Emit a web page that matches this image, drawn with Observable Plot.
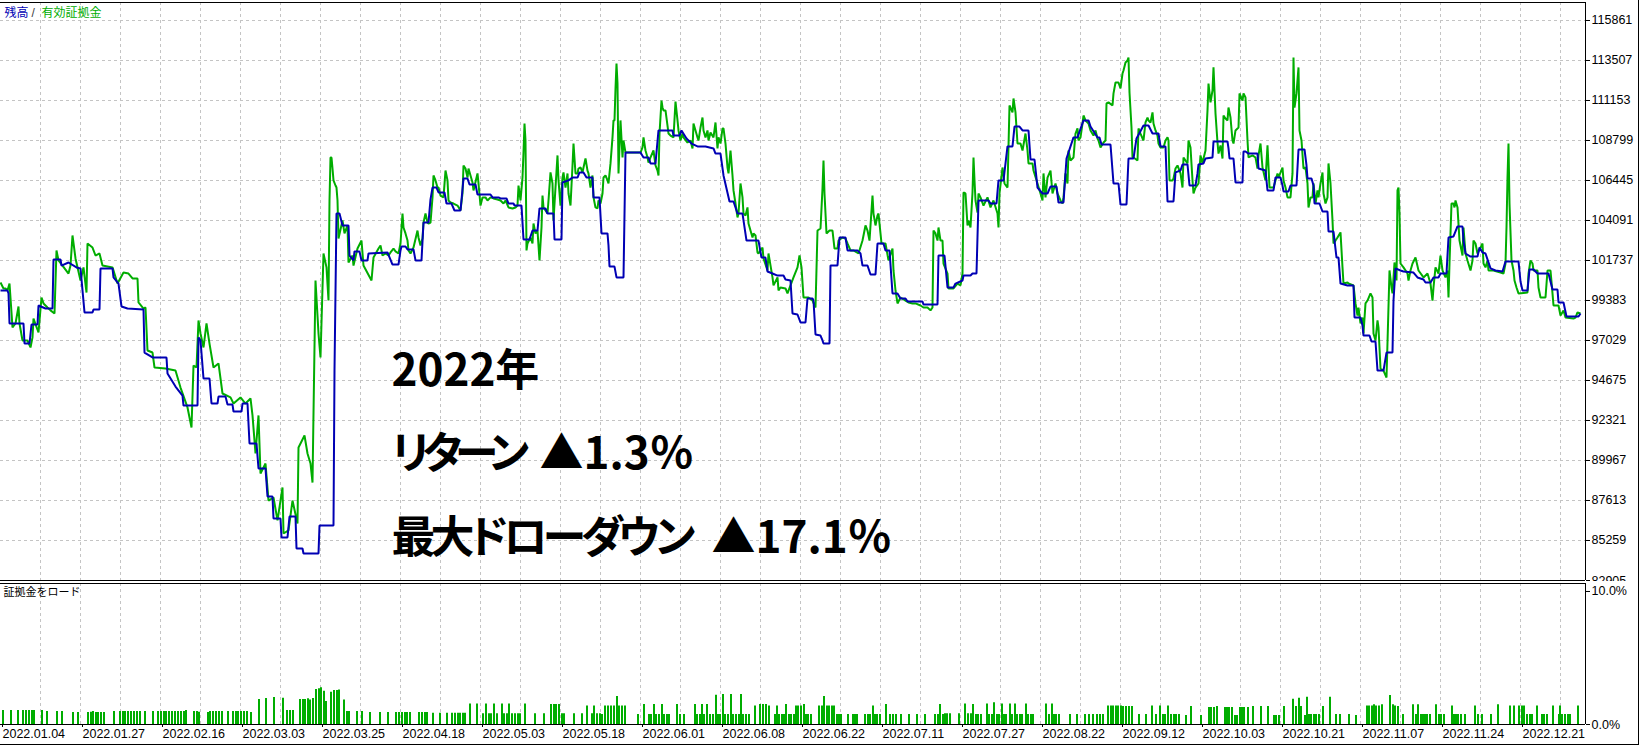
<!DOCTYPE html>
<html>
<head>
<meta charset="utf-8">
<script src="https://cdn.jsdelivr.net/npm/d3@7"></script>
<script src="https://cdn.jsdelivr.net/npm/@observablehq/plot@0.6"></script>
<style>
  html, body { margin: 0; padding: 0; background: #fff; }
  #chart { width: 1638px; height: 744px; border-right: 1px solid #000; border-bottom: 1px solid #000; overflow: hidden; background: #fff; }
  #chart svg { display: block; }
  .palt { font-feature-settings: "palt" 1; }
  .tight7 { font-feature-settings: "palt" 1; letter-spacing: -7px; }
  .tight5 { font-feature-settings: "palt" 1; letter-spacing: -5px; }
</style>
</head>
<body>
<div id="chart"></div>
<script>
// ---- data (x = trade step on the tester graph, value = account currency) ----
const balance = [[0,99970],[7,99970],[8,99800],[9,98030],[23,98030],[24,96850],[29,96850],[31,97970],[37,97970],[38,99090],[45,98910],[52,98910],[53,101800],[60,101800],[61,101440],[68,101620],[76,101330],[80,101270],[84,98680],[92,98680],[93,98850],[99,98850],[100,101270],[112,101270],[113,100740],[118,100380],[121,99030],[127,98910],[143,98850],[144,96320],[152,96030],[166,96030],[167,95090],[175,94320],[182,93790],[183,93200],[197,93200],[198,97210],[200,97030],[203,94790],[209,94790],[211,93320],[217,93320],[218,93730],[225,93730],[227,93260],[232,93260],[233,92850],[241,92850],[242,93320],[247,93320],[249,90970],[256,90970],[258,89500],[265,89500],[267,87850],[272,87850],[273,86550],[280,86550],[281,85440],[287,85440],[289,86670],[295,86670],[296,84790],[302,84790],[303,84490],[318,84490],[319,86140],[333,86140],[334,95260],[336,104500],[339,104500],[342,103800],[348,103800],[349,102030],[353,101740],[354,102270],[359,102270],[361,101740],[367,101740],[368,102150],[387,102210],[392,101500],[398,101500],[400,102330],[401,102560],[405,102560],[407,102390],[413,102390],[415,101740],[421,101740],[423,103970],[428,103970],[430,105330],[432,106030],[436,106030],[438,105740],[444,105740],[446,105090],[451,105090],[454,104680],[460,104680],[463,106560],[467,106560],[469,106210],[475,106210],[477,105620],[490,105620],[492,105450],[498,105450],[500,105390],[506,105390],[508,105090],[513,105090],[514,104970],[521,104970],[523,102970],[529,102970],[532,103500],[537,103500],[539,104800],[545,104800],[547,104500],[553,104500],[554,102970],[561,102970],[562,106330],[568,106450],[572,106620],[577,106620],[579,106920],[583,106920],[586,106620],[592,106620],[593,105450],[599,105450],[601,103330],[607,103330],[608,102620],[609,101380],[614,101380],[616,100740],[623,100740],[624,104440],[625,108090],[640,108090],[643,107800],[648,107800],[650,107450],[655,107450],[658,109390],[672,109390],[673,109090],[679,109090],[681,109390],[686,108920],[691,108620],[697,108450],[705,108450],[713,108330],[715,108030],[720,108030],[723,106740],[729,105210],[733,105210],[737,104500],[742,104500],[746,102910],[758,102910],[761,101910],[765,101910],[767,101090],[772,100970],[777,100850],[783,100850],[785,100620],[790,100560],[792,98620],[797,98560],[800,98090],[805,98090],[807,99500],[812,99500],[813,99380],[815,97380],[820,97320],[822,97030],[823,96850],[829,96850],[830,101440],[837,101440],[839,103090],[845,103090],[847,102330],[857,102330],[860,102150],[862,101440],[867,101440],[870,100910],[875,100910],[877,102740],[883,102740],[885,102330],[889,102330],[892,99800],[897,99800],[900,99500],[905,99500],[907,99320],[922,99320],[923,99150],[937,99150],[938,102030],[944,102030],[947,100150],[953,100150],[955,100380],[962,100560],[963,100850],[970,100850],[972,100970],[976,100970],[978,105270],[988,105270],[990,105090],[996,105090],[998,106450],[1003,106450],[1007,108450],[1012,108450],[1014,109620],[1019,109620],[1022,109390],[1028,109390],[1030,107680],[1034,107680],[1037,106030],[1042,105680],[1047,105680],[1050,106090],[1056,106090],[1058,105150],[1063,105150],[1066,107740],[1073,108980],[1077,108980],[1083,109980],[1088,109980],[1090,109620],[1097,108980],[1099,108980],[1101,108560],[1110,108560],[1113,106270],[1118,106270],[1120,105030],[1126,105030],[1128,107740],[1133,107740],[1136,108920],[1143,109680],[1148,109680],[1152,109210],[1158,109210],[1160,108450],[1165,108450],[1167,105210],[1173,105210],[1175,106920],[1180,107030],[1182,107390],[1187,107390],[1189,106150],[1195,106150],[1197,106860],[1198,107390],[1203,107450],[1205,107740],[1212,107800],[1213,108740],[1227,108740],[1228,108330],[1229,107740],[1233,107740],[1235,106330],[1242,106330],[1243,108150],[1245,108150],[1248,108030],[1257,108030],[1258,107150],[1265,107030],[1267,105860],[1273,105860],[1275,106620],[1280,106620],[1282,106150],[1283,105800],[1288,105800],[1290,106150],[1296,106150],[1298,108270],[1304,108270],[1306,107330],[1307,106560],[1311,106560],[1313,106150],[1314,105090],[1319,105090],[1322,104620],[1327,104620],[1328,103440],[1333,103440],[1336,101910],[1338,101910],[1340,100380],[1347,100270],[1353,100270],[1354,98380],[1360,98380],[1362,97910],[1363,97320],[1369,97320],[1371,96970],[1375,96970],[1377,95260],[1383,95260],[1386,96320],[1392,96320],[1393,99380],[1395,101270],[1400,101150],[1403,101090],[1413,101030],[1417,100740],[1423,100620],[1425,100440],[1430,100440],[1433,100740],[1438,100740],[1440,100970],[1446,100970],[1448,103090],[1453,103150],[1457,103740],[1462,103740],[1463,102910],[1465,102150],[1470,101970],[1477,101970],[1479,102500],[1482,102210],[1485,102150],[1490,101270],[1495,101150],[1502,101090],[1505,101680],[1518,101680],[1520,100500],[1522,99970],[1527,99970],[1529,101210],[1533,101210],[1537,100970],[1548,100970],[1552,100030],[1557,100030],[1558,99270],[1563,99270],[1566,98440],[1578,98440],[1580,98620]];

const equity = [[0,100440],[3,100090],[5,100090],[7,99970],[9,100380],[12,97800],[15,98030],[18,99030],[19,98030],[22,97030],[27,97030],[30,96620],[32,97210],[33,98320],[38,97500],[41,99560],[43,99210],[47,98970],[50,98800],[54,98620],[56,102330],[58,101740],[62,101440],[68,100970],[70,101440],[72,103210],[75,101860],[80,100560],[83,101330],[86,99850],[87,102740],[92,102500],[95,102030],[99,102150],[102,101440],[112,101330],[117,100380],[123,101030],[128,100970],[132,100680],[137,100680],[138,99270],[143,98910],[145,98970],[147,96440],[152,96320],[154,95440],[165,95380],[175,95260],[180,94260],[187,93090],[191,91910],[193,95560],[196,95440],[198,98210],[200,97440],[203,96620],[206,98030],[209,96850],[213,95440],[218,95680],[222,93910],[230,93680],[233,93320],[240,93680],[245,93320],[250,93620],[252,92620],[255,90380],[258,92620],[260,89200],[265,89790],[268,87610],[273,87790],[277,86440],[282,88380],[283,85670],[288,85850],[292,87610],[297,86260],[298,90730],[304,91440],[307,90380],[310,89790],[312,88670],[313,92730],[315,100560],[318,97440],[320,96030],[323,102150],[326,101330],[328,99380],[329,105270],[330,107800],[331,107800],[332,107150],[333,106450],[335,106150],[336,106030],[337,105270],[338,103030],[342,104090],[344,103330],[347,103800],[348,101620],[352,102030],[353,101440],[357,102440],[361,102910],[363,101440],[371,100560],[373,101910],[378,102440],[380,102620],[382,102030],[385,102150],[388,102030],[390,102210],[393,102440],[395,102270],[398,102150],[400,102740],[402,104500],[403,103680],[405,103330],[407,102910],[408,102330],[410,102150],[413,102500],[417,103500],[418,103090],[420,102620],[422,103030],[423,103970],[425,104500],[427,103970],[428,103910],[430,103970],[432,105450],[433,106740],[435,106450],[437,106030],[438,106030],[440,105560],[443,105450],[445,107030],[447,106450],[448,105270],[450,105150],[453,105090],[457,104970],[460,104680],[462,105680],[463,107330],[465,107150],[467,106620],[468,107150],[472,106330],[473,105860],[477,106860],[478,106270],[480,104970],[482,105450],[485,105450],[487,105270],[490,105450],[493,105390],[497,105330],[500,105270],[503,105090],[505,105270],[508,104860],[512,104800],[515,104860],[517,104970],[518,106150],[520,105270],[522,106620],[523,108090],[524,109800],[525,108800],[526,102330],[527,102740],[530,103090],[532,102740],[533,103910],[535,103330],[537,103500],[539,101740],[541,103680],[542,105560],[543,104860],[547,104500],[548,105270],[550,106920],[552,106270],[553,104090],[555,106030],[557,107920],[558,106450],[560,104970],[562,106620],[563,106920],[565,106030],[567,106860],[568,105680],[570,104970],[572,107330],[573,108620],[575,106860],[577,106860],[578,107150],[580,107210],[582,106920],[583,107210],[585,107740],[587,107030],[588,106860],[590,106030],[592,106740],[593,105450],[595,104860],[597,104800],[598,105270],[600,105090],[602,105680],[603,106620],[605,106740],[607,106450],[608,106270],[610,107450],[612,108980],[613,109980],[614,109980],[615,111860],[616,113330],[617,112150],[618,106860],[620,109980],[622,107800],[623,108800],[625,108090],[640,108090],[642,108390],[643,108980],[645,108210],[647,107800],[648,107500],[650,107800],[653,108210],[655,107330],[657,107030],[658,106740],[659,109210],[661,111150],[662,110740],[663,110570],[665,110570],[667,109680],[668,109210],[670,109090],[673,108980],[675,111090],[677,109980],[678,109390],[680,108800],[682,109210],[683,108980],[687,108680],[690,108800],[692,108330],[693,109800],[695,109390],[697,108980],[698,108800],[700,109560],[702,110150],[703,109390],[705,108980],[707,109390],[708,108800],[710,109270],[713,108980],[715,109860],[717,108330],[718,108980],[720,108620],[722,109510],[723,109510],[725,108620],[727,107210],[728,106860],[730,108210],[732,106740],[733,105860],[735,105090],[737,104270],[738,104500],[740,106270],[742,105450],[743,104500],[745,104390],[747,104860],[748,103910],[750,103500],[752,103090],[753,103330],[755,103210],[757,102210],[758,102150],[762,102500],[763,101860],[767,101150],[768,102150],[772,100740],[773,100270],[777,100740],[778,99970],[780,100150],[785,100090],[787,99800],[793,100740],[797,101330],[799,102030],[801,101330],[803,99560],[808,99560],[812,99380],[815,98970],[817,103500],[820,103620],[822,105980],[823,107620],[824,105680],[826,103330],[829,103500],[832,103500],[834,102440],[837,102440],[838,102910],[842,103090],[845,103030],[847,102740],[850,102330],[853,102330],[858,102150],[862,102910],[865,103800],[867,103500],[869,102910],[872,105560],[873,104500],[875,103800],[877,104390],[878,104500],[881,102740],[885,102740],[888,101740],[892,102440],[893,101150],[895,99970],[897,99210],[900,99560],[905,99380],[908,99270],[912,99210],[915,99210],[920,99090],[923,98970],[927,98970],[930,98800],[932,98970],[933,103500],[935,103330],[937,102910],[938,103680],[940,102910],[942,102910],[943,101560],[947,100970],[948,100090],[953,100090],[957,100380],[960,100270],[962,100970],[963,105740],[965,105680],[967,103800],[968,104090],[970,103680],[972,105740],[973,107800],[974,106450],[975,105270],[977,104560],[978,105680],[980,105450],[983,104970],[987,105450],[990,104860],[993,105270],[997,104500],[998,103680],[999,105680],[1002,107210],[1004,106270],[1007,106030],[1009,110860],[1012,110450],[1013,111270],[1015,110450],[1017,108620],[1020,108620],[1022,108210],[1025,109210],[1027,108210],[1028,107450],[1032,107450],[1033,107030],[1037,106270],[1040,105680],[1042,105270],[1043,106860],[1045,105450],[1047,106620],[1050,107030],[1052,105680],[1055,106270],[1057,105680],[1060,105270],[1062,105090],[1063,105450],[1065,106860],[1067,106270],[1068,108210],[1070,107620],[1073,107800],[1075,109210],[1077,109510],[1078,108800],[1080,108980],[1082,109800],[1083,110270],[1085,109980],[1087,109860],[1088,109800],[1090,109390],[1093,109090],[1095,109390],[1097,108920],[1098,108800],[1100,108390],[1103,108680],[1105,108800],[1106,110980],[1108,111040],[1112,110860],[1113,111570],[1115,112210],[1118,112210],[1120,111860],[1122,112740],[1123,112920],[1125,113390],[1127,113510],[1128,113680],[1129,111620],[1131,109560],[1132,107800],[1133,107800],[1137,107620],[1138,109510],[1140,109210],[1142,108920],[1143,108800],[1145,109860],[1147,110150],[1148,109980],[1150,109860],[1152,110450],[1153,109800],[1155,109390],[1157,109090],[1158,108620],[1160,108390],[1163,108390],[1165,108800],[1167,108980],[1168,108800],[1169,106450],[1172,106450],[1173,106560],[1175,107150],[1177,107330],[1180,106860],[1182,106030],[1183,107800],[1185,107620],[1187,107450],[1188,108800],[1190,108390],[1192,106450],[1193,105680],[1195,106030],[1198,106270],[1200,107920],[1202,107450],[1203,107740],[1205,108210],[1207,110570],[1208,112150],[1210,111040],[1212,111740],[1213,113100],[1215,110390],[1217,108680],[1218,108030],[1220,108510],[1222,107740],[1223,110270],[1225,110090],[1227,109980],[1228,110740],[1230,110150],[1232,108800],[1233,108620],[1235,109390],[1238,109560],[1239,111570],[1242,111150],[1243,111570],[1245,111330],[1247,108800],[1248,107800],[1252,107920],[1255,107800],[1257,107150],[1258,107920],[1260,108620],[1262,107210],[1265,106450],[1267,108510],[1269,106030],[1273,106030],[1277,106860],[1278,106620],[1282,107210],[1283,106450],[1285,106030],[1287,105450],[1290,105450],[1292,106860],[1293,113680],[1294,110740],[1296,111570],[1298,113100],[1299,109390],[1301,108800],[1303,107150],[1305,107210],[1307,106270],[1308,104860],[1310,105450],[1312,105450],[1313,106270],[1315,105090],[1317,105860],[1318,105450],[1320,106270],[1322,106920],[1323,105680],[1325,105090],[1327,105450],[1328,107450],[1330,106270],[1332,104090],[1333,102740],[1335,102910],[1337,103090],[1340,103390],[1342,101330],[1343,100380],[1347,100440],[1348,100380],[1353,100270],[1355,99210],[1357,98500],[1358,98970],[1360,98030],[1362,98380],[1363,97440],[1365,99210],[1367,99380],[1370,99800],[1372,99560],[1373,97440],[1375,97030],[1377,98210],[1378,97790],[1380,95380],[1383,95260],[1386,94850],[1387,96910],[1389,101150],[1391,100150],[1392,99800],[1394,101620],[1396,100560],[1397,105860],[1398,106030],[1399,104500],[1400,101560],[1403,101330],[1407,100970],[1408,100560],[1410,101150],[1412,101560],[1415,101910],[1418,101150],[1423,100740],[1427,100970],[1430,100380],[1432,99380],[1433,100150],[1435,101330],[1438,100970],[1440,102030],[1442,101150],[1445,100740],[1447,101150],[1448,99560],[1449,101560],[1451,105090],[1453,105090],[1454,104860],[1455,105270],[1457,104860],[1459,102910],[1462,102030],[1463,103680],[1465,102150],[1467,101740],[1470,101150],[1472,101740],[1473,102910],[1475,102740],[1477,102150],[1480,102500],[1482,102740],[1483,101560],[1485,101330],[1487,101740],[1488,101150],[1493,101150],[1500,101030],[1503,100970],[1505,101560],[1506,103680],[1507,106620],[1508,108620],[1509,105090],[1511,101740],[1513,101150],[1514,100560],[1516,100150],[1518,99800],[1527,99850],[1528,100970],[1530,101740],[1532,101560],[1533,101150],[1537,101150],[1538,100150],[1540,99560],[1545,99560],[1547,101150],[1550,101150],[1552,99800],[1553,99090],[1558,99090],[1560,98500],[1563,98800],[1565,98380],[1573,98320],[1575,98380],[1577,98680],[1580,98620]];

const marginLoad = [[2,1.05],[10,1.05],[17,1.05],[22,1.05],[25,1.05],[28,1.05],[31,1.05],[33,1.05],[41,1.05],[46,0.98],[56,0.98],[61,0.98],[72,0.9],[77,0.9],[87,0.9],[90,0.92],[92,0.98],[95,0.9],[97,0.9],[100,0.9],[103,0.9],[113,0.98],[119,0.98],[122,0.98],[124,0.98],[127,0.98],[130,0.98],[133,0.98],[136,0.98],[139,0.98],[144,0.98],[152,0.98],[157,0.98],[160,0.98],[163,0.98],[165,0.98],[168,0.98],[171,0.98],[174,0.98],[177,0.98],[180,0.98],[183,0.98],[185,1.05],[193,0.98],[196,0.98],[198,0.92],[207,0.9],[209,0.98],[212,0.98],[215,0.98],[218,0.98],[221,0.98],[227,0.98],[232,0.98],[235,0.98],[237,0.98],[240,0.98],[243,0.98],[246,0.98],[250,0.9],[258,1.88],[265,1.95],[273,2.03],[282,1.98],[286,1.05],[289,1.05],[292,1.05],[299,1.88],[302,1.88],[304,1.88],[307,1.93],[309,1.85],[312,1.95],[315,2.63],[318,2.68],[320,2.76],[323,2.5],[325,1.73],[330,2.43],[333,2.56],[336,2.56],[338,2.6],[343,1.85],[346,0.98],[348,0.98],[356,0.98],[361,0.98],[369,0.9],[379,0.9],[387,0.9],[395,0.9],[398,0.9],[401,0.9],[404,0.9],[406,0.9],[409,0.9],[418,0.9],[421,0.9],[424,0.9],[426,0.9],[432,0.85],[439,0.85],[446,0.85],[451,0.85],[454,0.85],[457,0.85],[459,0.85],[462,0.85],[464,0.85],[469,1.55],[476,1.55],[482,0.8],[485,1.55],[488,0.8],[490,0.8],[493,1.55],[496,0.8],[501,1.55],[503,0.8],[506,0.8],[508,1.55],[511,0.8],[514,0.8],[517,0.8],[519,0.8],[524,1.55],[534,0.8],[543,0.8],[550,1.5],[553,1.5],[555,1.5],[558,1.5],[561,0.8],[563,0.8],[573,0.8],[581,0.8],[586,1.4],[591,0.8],[593,1.4],[596,0.8],[599,0.8],[601,0.75],[604,1.4],[607,1.4],[610,1.4],[613,1.4],[616,2.1],[618,1.4],[621,1.4],[624,1.4],[637,0.75],[643,1.5],[648,0.75],[650,0.75],[653,1.5],[655,0.75],[658,0.75],[661,1.5],[663,0.75],[666,0.75],[668,0.75],[676,1.5],[679,0.75],[683,0.75],[694,1.5],[696,0.75],[699,0.75],[701,1.5],[703,0.75],[706,1.5],[709,0.75],[712,0.75],[715,2.2],[717,0.75],[719,0.75],[722,2.25],[724,0.75],[727,0.75],[730,2.25],[732,0.75],[735,0.75],[738,0.75],[740,2.25],[742,0.75],[745,0.75],[748,0.75],[754,1.4],[759,1.5],[762,1.5],[765,1.5],[768,1.4],[774,0.75],[776,1.4],[778,0.75],[781,0.75],[783,0.75],[785,1.5],[788,0.75],[790,0.75],[793,0.75],[795,1.4],[797,1.4],[800,1.4],[803,1.5],[805,0.75],[807,0.75],[810,0.75],[818,1.4],[821,1.4],[823,2.1],[826,1.4],[828,1.4],[831,1.4],[833,1.4],[836,0.75],[838,0.75],[840,0.75],[847,0.75],[852,0.75],[854,0.75],[856,0.75],[864,0.75],[867,0.75],[869,0.75],[872,1.4],[874,0.75],[876,0.75],[879,0.75],[885,1.5],[889,0.75],[892,0.75],[895,0.75],[900,0.75],[908,0.75],[916,0.75],[924,0.75],[934,0.75],[937,0.75],[939,1.5],[942,0.75],[944,0.8],[946,0.8],[949,0.8],[958,0.8],[964,1.55],[967,0.8],[970,0.8],[972,1.5],[975,0.75],[977,0.75],[980,0.75],[986,1.55],[988,0.75],[991,0.75],[993,1.63],[996,0.75],[998,0.75],[1001,1.55],[1003,0.75],[1005,0.75],[1009,1.55],[1011,0.75],[1014,1.55],[1016,0.75],[1019,0.75],[1021,0.75],[1025,1.55],[1027,0.75],[1030,0.75],[1032,0.75],[1045,1.55],[1048,0.75],[1051,1.55],[1053,0.75],[1055,0.75],[1058,0.75],[1069,0.75],[1076,0.75],[1084,0.75],[1088,0.75],[1092,0.75],[1096,0.75],[1099,0.75],[1102,0.75],[1107,1.4],[1110,1.4],[1112,1.4],[1115,1.4],[1117,1.4],[1120,1.4],[1122,1.35],[1125,1.35],[1128,1.35],[1131,1.35],[1138,0.75],[1145,0.75],[1151,1.4],[1155,0.75],[1159,1.4],[1162,0.75],[1164,0.75],[1167,1.4],[1170,0.75],[1173,0.75],[1175,0.75],[1178,0.75],[1185,0.68],[1190,1.35],[1200,0.68],[1208,1.28],[1210,1.28],[1213,1.28],[1216,1.35],[1224,1.28],[1226,1.28],[1228,1.28],[1231,1.28],[1234,0.68],[1236,0.68],[1239,1.28],[1241,1.28],[1243,1.28],[1247,1.28],[1252,1.35],[1260,1.35],[1267,1.35],[1273,0.68],[1275,0.68],[1278,0.68],[1283,1.35],[1292,1.9],[1295,1.35],[1298,1.98],[1300,1.35],[1304,0.68],[1306,2.05],[1308,0.75],[1310,0.75],[1313,0.75],[1315,0.75],[1318,0.75],[1322,1.35],[1329,2.05],[1335,0.75],[1339,0.75],[1348,0.75],[1355,0.68],[1366,1.4],[1368,1.4],[1371,1.4],[1373,1.48],[1375,1.4],[1378,1.4],[1381,1.48],[1389,2.18],[1392,1.48],[1394,1.4],[1397,1.35],[1402,0.75],[1412,1.48],[1415,0.75],[1417,1.48],[1420,0.75],[1422,0.75],[1424,0.75],[1426,0.75],[1429,0.75],[1435,1.48],[1438,0.75],[1440,0.75],[1443,0.75],[1451,1.4],[1453,0.75],[1455,0.75],[1457,0.75],[1460,0.75],[1464,0.75],[1474,1.4],[1477,0.75],[1481,0.75],[1490,0.75],[1497,1.48],[1509,1.4],[1513,1.4],[1518,1.4],[1521,1.4],[1523,1.4],[1526,0.75],[1529,0.75],[1531,0.75],[1536,1.4],[1541,0.75],[1543,0.75],[1546,0.75],[1552,1.4],[1558,0.75],[1559,1.4],[1561,0.75],[1564,0.75],[1567,0.75],[1569,0.75],[1577,1.4]];

const yTicks = [82905, 85259, 87613, 89967, 92321, 94675, 97029, 99383, 101737, 104091, 106445, 108799, 111153, 113507, 115861];
const dateLabels = ["2022.01.04","2022.01.27","2022.02.16","2022.03.03","2022.03.25","2022.04.18","2022.05.03","2022.05.18","2022.06.01","2022.06.08","2022.06.22","2022.07.11","2022.07.27","2022.08.22","2022.09.12","2022.10.03","2022.10.21","2022.11.07","2022.11.24","2022.12.21"];
const loadTicks = [0, 10];
const legendParts = ["残高", "/", "有効証拠金"];
const subTitle = "証拠金をロード";
const noteYear = "2022年";
const noteReturn = ["リターン", "▲1.3％"];
const noteDrawdown = ["最大ドローダウン", "▲17.1％"];

// ---- scales / layout ----
const xMax = 1585;            // last step of the tester graph area
const xTickStep = 80;         // one date label every 80 steps
const gridStep = 40;          // vertical grid every 40 steps
const yTop = 116920;
const loadTop = 10.6;
const W = 1638;
const blue = "#0000b4";
const green = "#00ad00";
const gridStyle = {stroke: "#c4c4c4", strokeOpacity: 1, strokeDasharray: "3,3", strokeWidth: 1};
const vGrid = d3.range(gridStep, xMax, gridStep);
const xTicks = dateLabels.map((d, i) => i * xTickStep);
const labelAt = new Map(xTicks.map((t, i) => [t, dateLabels[i]]));
const axisFont = "Liberation Sans, Arial, sans-serif";
const cjk = "'Noto Sans CJK JP', 'Noto Sans', sans-serif";
const big = {frameAnchor: "top-left", textAnchor: "start", lineAnchor: "bottom", fill: "black", fontSize: 44, fontWeight: "bold", fontFamily: cjk};

const main = Plot.plot({
  width: W, height: 581,
  marginLeft: 0, marginRight: W - xMax, marginTop: 2, marginBottom: 1,
  style: {background: "white", color: "black", fontFamily: axisFont, fontSize: "12.5px"},
  x: {domain: [0, xMax], axis: null},
  y: {domain: [yTicks[0], yTop], axis: null},
  marks: [
    Plot.gridX(vGrid, gridStyle),
    Plot.gridY(yTicks.slice(1), gridStyle),
    Plot.line(equity, {x: d => d[0], y: d => d[1], stroke: green, strokeWidth: 2, strokeLinejoin: "miter", strokeLinecap: "butt"}),
    Plot.line(balance, {x: d => d[0], y: d => d[1], stroke: blue, strokeWidth: 2, strokeLinejoin: "miter", strokeLinecap: "butt"}),
    Plot.ruleY([yTop], {stroke: "black"}),
    Plot.ruleY([yTicks[0]], {stroke: "black"}),
    Plot.ruleX([xMax], {stroke: "black"}),
    Plot.axisY({anchor: "right", ticks: yTicks, tickSize: 4, tickPadding: 2, tickFormat: d3.format("d"), label: null, fontSize: 12.5, fontFamily: axisFont}),
    Plot.text([legendParts[0]], {frameAnchor: "top-left", dx: 4, dy: 11, textAnchor: "start", lineAnchor: "middle", fill: blue, fontSize: 12, fontFamily: cjk}),
    Plot.text([legendParts[1]], {frameAnchor: "top-left", dx: 31, dy: 11, textAnchor: "start", lineAnchor: "middle", fill: "#404040", fontSize: 12, fontFamily: axisFont}),
    Plot.text([legendParts[2]], {frameAnchor: "top-left", dx: 41, dy: 11, textAnchor: "start", lineAnchor: "middle", fill: green, fontSize: 12, fontFamily: cjk}),
    Plot.text([noteYear], {...big, dx: 391, dy: 383, className: "palt"}),
    Plot.text([noteReturn[0]], {...big, dx: 391, dy: 466, className: "tight7"}),
    Plot.text([noteReturn[1]], {...big, dx: 539, dy: 466}),
    Plot.text([noteDrawdown[0]], {...big, dx: 391, dy: 550, className: "tight5"}),
    Plot.text([noteDrawdown[1]], {...big, dx: 711, dy: 550})
  ]
});

const sub = Plot.plot({
  width: W, height: 163,
  marginLeft: 0, marginRight: W - xMax, marginTop: 2, marginBottom: 20,
  style: {background: "white", color: "black", fontFamily: axisFont, fontSize: "12.5px"},
  x: {domain: [0, xMax], axis: null},
  y: {domain: [0, loadTop], axis: null},
  marks: [
    Plot.gridX(vGrid, gridStyle),
    Plot.ruleX(marginLoad, {x: d => d[0], y1: 0, y2: d => d[1], stroke: green, strokeWidth: 2, dx: 0.5}),
    Plot.ruleY([loadTop], {stroke: "black"}),
    Plot.ruleY([0], {stroke: "black"}),
    Plot.ruleX([xMax], {stroke: "black"}),
    Plot.axisY({anchor: "right", ticks: loadTicks, tickSize: 4, tickPadding: 2, tickFormat: d => d.toFixed(1) + "%", label: null, fontSize: 12.5, fontFamily: axisFont}),
    Plot.axisX({anchor: "bottom", ticks: xTicks, tickSize: 3, tickPadding: 1.5, tickFormat: d => labelAt.get(d), textAnchor: "start", dx: 2, label: null, fontSize: 12.5, fontFamily: axisFont}),
    Plot.text([subTitle], {frameAnchor: "top-left", dx: 3, dy: 9, textAnchor: "start", lineAnchor: "middle", fill: "black", fontSize: 11, fontFamily: cjk})
  ]
});

const chart = document.getElementById("chart");
chart.appendChild(main);
chart.appendChild(sub);
</script>
</body>
</html>
